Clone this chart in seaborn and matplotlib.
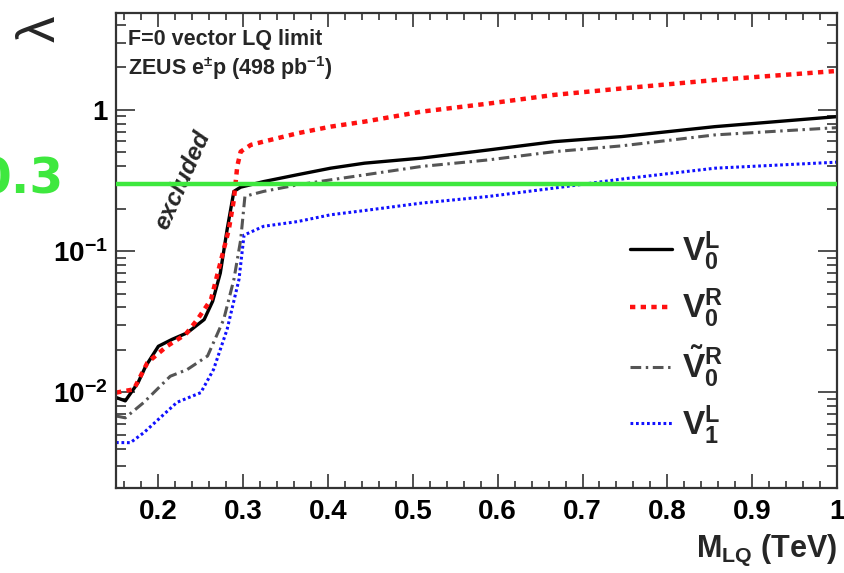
#! /usr/bin/env python3

import numpy as np
import pandas as pd

import matplotlib
matplotlib.use('Agg')
import matplotlib.pyplot as plt
from matplotlib.ticker import FixedLocator, MultipleLocator, LogLocator, NullFormatter

import seaborn as sns

# limits (M_LQ in TeV, lambda)
m_v0l = [0.150, 0.161, 0.176, 0.185, 0.200, 0.216, 0.234, 0.254, 0.264, 0.273, 0.281, 0.289,
         0.297, 0.324, 0.363, 0.403, 0.443, 0.510, 0.589, 0.667, 0.746, 0.856, 1.000]
lam_v0l = [0.0092, 0.0087, 0.0117, 0.0153, 0.0212, 0.0237, 0.0264, 0.0328, 0.0442, 0.070, 0.142, 0.265,
           0.284, 0.311, 0.347, 0.387, 0.420, 0.456, 0.521, 0.597, 0.648, 0.762, 0.897]

m_v0r = [0.150, 0.171, 0.187, 0.210, 0.232, 0.246, 0.262, 0.275, 0.283, 0.289, 0.293, 0.297,
         0.309, 0.324, 0.364, 0.403, 0.443, 0.510, 0.589, 0.667, 0.746, 0.856, 1.000]
lam_v0r = [0.00995, 0.0105, 0.0162, 0.0212, 0.0257, 0.0328, 0.0454, 0.092, 0.142, 0.231, 0.400, 0.507,
           0.566, 0.597, 0.684, 0.762, 0.827, 0.973, 1.11, 1.28, 1.42, 1.63, 1.89]

m_v0rt = [0.150, 0.161, 0.183, 0.214, 0.234, 0.258, 0.277, 0.289, 0.297, 0.302, 0.309, 0.324,
          0.364, 0.403, 0.443, 0.510, 0.589, 0.667, 0.746, 0.856, 1.000]
lam_v0rt = [0.0068, 0.0066, 0.0085, 0.0130, 0.0145, 0.0181, 0.0328, 0.063, 0.120, 0.244, 0.251, 0.265,
            0.295, 0.320, 0.347, 0.398, 0.443, 0.507, 0.557, 0.666, 0.750]

m_v1l = [0.150, 0.167, 0.183, 0.222, 0.250, 0.265, 0.281, 0.295, 0.301, 0.324, 0.364, 0.403,
         0.443, 0.510, 0.589, 0.667, 0.746, 0.856, 1.000]
lam_v1l = [0.00441, 0.0044, 0.00519, 0.0085, 0.00995, 0.0145, 0.0279, 0.063, 0.130, 0.150, 0.162, 0.181,
           0.194, 0.219, 0.244, 0.280, 0.324, 0.387, 0.427]

labels = [r'$\mathbf{V_0^L}$', r'$\mathbf{V_0^R}$', r'$\mathbf{\tilde{V}_0^R}$', r'$\mathbf{V_1^L}$']
x_ticks = [0.2, 0.3, 0.4, 0.5, 0.6, 0.7, 0.8, 0.9, 1.0]
x_ticklabels = ['0.2', '0.3', '0.4', '0.5', '0.6', '0.7', '0.8', '0.9', '1']
y_ticks = [1e-2, 1e-1, 1]
y_ticklabels = [r'$\mathbf{10^{-2}}$', r'$\mathbf{10^{-1}}$', '1']
lam_cut = 0.3

if __name__ == '__main__':

    sns.set_style('ticks')
    plt.rcParams['font.family'] = ['Liberation Sans', 'DejaVu Sans']
    plt.rcParams['font.weight'] = 'bold'
    plt.rcParams['mathtext.fontset'] = 'custom'
    plt.rcParams['mathtext.rm'] = 'Liberation Sans:bold'
    plt.rcParams['mathtext.bf'] = 'Liberation Sans:bold'
    plt.rcParams['mathtext.it'] = 'Liberation Sans:bold:italic'

    fig = plt.figure(figsize=(8.44, 5.73), dpi=100)
    ax = fig.add_axes([0.1374, 0.1483, 0.8543, 0.8287])

    series = [
        (m_v0l, lam_v0l, 'black', '-', 2.4),
        (m_v0r, lam_v0r, '#ff1010', (0, (1.2, 1.2)), 3.2),
        (m_v0rt, lam_v0rt, '#555555', (0, (3.5, 1.5, 0.8, 1.5)), 2.2),
        (m_v1l, lam_v1l, '#1010ff', (0, (0.9, 0.9)), 2.2),
    ]
    for (m, lam, col, ls, lw), lab in zip(series, labels):
        df = pd.DataFrame({'M': m, 'lam': lam})
        sns.lineplot(data=df, x='M', y='lam', ax=ax, color=col, linestyle=ls,
                     lw=lw, estimator=None, label=lab)

    ax.axhline(lam_cut, color='#3ee83e', lw=3.2, zorder=5)

    ax.set_xscale('linear')
    ax.set_yscale('log')
    ax.set_xlim(0.15, 1.0)
    ax.set_ylim(0.0021, 4.85)

    ax.xaxis.set_major_locator(FixedLocator(x_ticks))
    ax.set_xticklabels(x_ticklabels)
    ax.xaxis.set_minor_locator(MultipleLocator(0.02))
    ax.yaxis.set_major_locator(FixedLocator(y_ticks))
    ax.set_yticklabels(y_ticklabels)
    ax.yaxis.set_minor_locator(LogLocator(base=10, subs=np.arange(2, 10)))
    ax.yaxis.set_minor_formatter(NullFormatter())

    ax.tick_params(axis='both', which='both', direction='in', top=True, right=True,
                   labelsize=20, width=1.2, colors='#333333', labelcolor='black')
    ax.tick_params(axis='x', which='major', length=10, pad=8)
    ax.tick_params(axis='x', which='minor', length=5)
    ax.tick_params(axis='y', which='major', length=14, pad=6)
    ax.tick_params(axis='y', which='minor', length=7)
    for sp in ax.spines.values():
        sp.set_linewidth(1.6)
        sp.set_color('#333333')

    ax.set_xlabel(r'$\mathbf{M_{LQ}}$ (TeV)', fontsize=22, fontweight='bold')
    ax.xaxis.set_label_coords(1.0, -0.095)
    ax.xaxis.label.set_horizontalalignment('right')
    ax.set_ylabel('λ', fontsize=38, rotation=90)
    ax.yaxis.set_label_coords(-0.07, 0.968)

    ax.text(0.017, 0.945, 'F=0 vector LQ limit', transform=ax.transAxes,
            fontsize=15.5, fontweight='bold', va='center')
    ax.text(0.017, 0.885, r'ZEUS e$^{\pm}$p (498 pb$^{-1}$)', transform=ax.transAxes,
            fontsize=15.5, fontweight='bold', va='center')
    ax.text(0.093, 0.648, 'excluded', transform=ax.transAxes, rotation=66,
            fontsize=17.5, fontweight='bold', style='italic', ha='center', va='center')

    fig.text(0.0755, 0.686, '0.3', color='#3ee83e', fontsize=35, fontweight='bold',
             family='DejaVu Sans', ha='right', va='center')

    ax.legend(loc='upper left', bbox_to_anchor=(0.69, 0.58), frameon=False,
              fontsize=24, handlelength=1.25, handletextpad=0.3, labelspacing=0.42,
              borderpad=0)

    fig.savefig('out.png', dpi=100)
